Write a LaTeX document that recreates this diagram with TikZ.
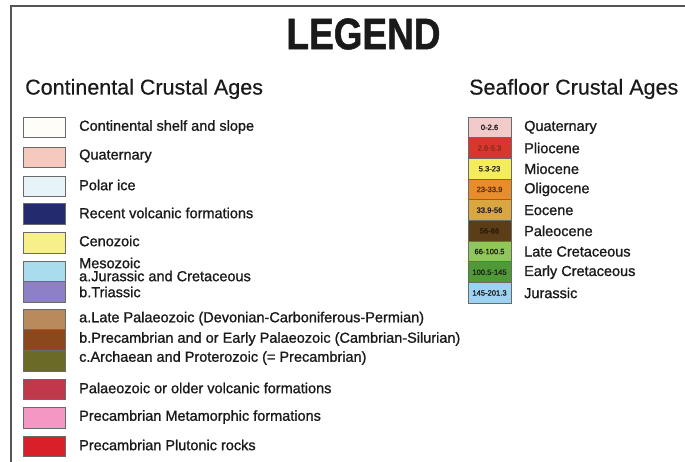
\documentclass[tikz,border=0pt]{standalone}
\usepackage{fontspec}
\setmainfont{Liberation Sans}
\newfontfamily\lblfont[FakeBold=1.1]{Liberation Sans}
\newfontfamily\hdrfont[FakeBold=0.4]{Liberation Sans}
\newfontfamily\ttlfont[FakeBold=1.2]{Liberation Sans Bold}
\definecolor{frame}{HTML}{555555}
\definecolor{edge}{HTML}{6A6A6A}
\definecolor{ink}{HTML}{1A1A1A}
\definecolor{cShelf}{HTML}{FFFDF8}
\definecolor{cQuat}{HTML}{F5C9BE}
\definecolor{cIce}{HTML}{E6F4F7}
\definecolor{cVolc}{HTML}{232B6E}
\definecolor{cCeno}{HTML}{F7F08A}
\definecolor{cJur}{HTML}{A9DDEE}
\definecolor{cTri}{HTML}{8E80C6}
\definecolor{cLPal}{HTML}{B98A5B}
\definecolor{cEPal}{HTML}{8A481C}
\definecolor{cArch}{HTML}{6B6A26}
\definecolor{cPVolc}{HTML}{C0384A}
\definecolor{cMeta}{HTML}{F597C4}
\definecolor{cPlut}{HTML}{D81F2A}
\definecolor{sQuat}{HTML}{F2CACA}
\definecolor{sPlio}{HTML}{D9362C}
\definecolor{sMio}{HTML}{F4EC5C}
\definecolor{sOli}{HTML}{E98D2B}
\definecolor{sEoc}{HTML}{D9A642}
\definecolor{sPal}{HTML}{5B3D18}
\definecolor{sLCr}{HTML}{8FC75C}
\definecolor{sECr}{HTML}{4F9A36}
\definecolor{sJur}{HTML}{9DD3F0}
\definecolor{tPlio}{HTML}{8A2A20}
\definecolor{tOli}{HTML}{5A2A0A}
\definecolor{tPal}{HTML}{2A1A08}
\tikzset{
  swatch/.style={draw=edge, line width=0.8pt, minimum width=42pt, minimum height=#1, inner sep=0pt, outer sep=0pt},
  swatch/.default=20.5pt,
  seabox/.style={draw=edge, line width=0.8pt, minimum width=43pt, minimum height=20.7pt, inner sep=0pt, outer sep=0pt, font=\lblfont\fontsize{7.6}{8}\selectfont, text=ink},
  lbl/.style={anchor=west, inner sep=0pt, font=\lblfont\fontsize{14.5}{15}\selectfont, text=ink},
  hdr/.style={anchor=west, inner sep=0pt, font=\hdrfont\fontsize{21.5}{22}\selectfont, text=ink},
}
\begin{document}
\begin{tikzpicture}[x=1pt,y=-1pt]
\useasboundingbox (0,0) rectangle (685,462);
\fill[white] (0,0) rectangle (685,462);
% frame
\draw[frame, line width=1.6pt] (11,462) -- (11,6) -- (685,6);
% title
\node[inner sep=0pt, text=ink] (title) at (363.5,34) {\scalebox{0.84}[1]{\ttlfont\fontsize{44}{44}\selectfont LEGEND}};
\node[hdr] (hcont) at (25,89) {Continental Crustal Ages};
\node[hdr] (hsea) at (469,89) {Seafloor Crustal Ages};
% continental swatches
\node[swatch, fill=cShelf] (s1) at (44,127.5) {};
\node[lbl] (l1) at (79,127) {Continental shelf and slope};
\node[swatch, fill=cQuat] (s2) at (44,157.5) {};
\node[lbl] (l2) at (79,156) {Quaternary};
\node[swatch, fill=cIce] (s3) at (44,186.5) {};
\node[lbl] (l3) at (79,185) {Polar ice};
\node[swatch, fill=cVolc] (s4) at (44,214) {};
\node[lbl] (l4) at (79,213) {Recent volcanic formations};
\node[swatch, fill=cCeno] (s5) at (44,243) {};
\node[lbl] (l5) at (79,241) {Cenozoic};
\node[swatch, fill=cJur] (s6a) at (44,272) {};
\node[swatch, fill=cTri] (s6b) at (44,292) {};
\node[lbl] (l6) at (79,263) {Mesozoic};
\node[lbl] (l6a) at (79,276) {a.Jurassic and Cretaceous};
\node[lbl] (l6b) at (79,292) {b.Triassic};
\node[swatch, fill=cLPal] (s7a) at (44,319.5) {};
\node[swatch, fill=cEPal] (s7b) at (44,340) {};
\node[swatch, fill=cArch] (s7c) at (44,361) {};
\node[lbl] (l7a) at (79,318.5) {a.Late Palaeozoic (Devonian-Carboniferous-Permian)};
\node[lbl] (l7b) at (79,339) {b.Precambrian and or Early Palaeozoic (Cambrian-Silurian)};
\node[lbl] (l7c) at (79,358) {c.Archaean and Proterozoic (= Precambrian)};
\node[swatch, fill=cPVolc] (s8) at (44,389.5) {};
\node[lbl] (l8) at (79,388) {Palaeozoic or older volcanic formations};
\node[swatch, fill=cMeta] (s9) at (44,418) {};
\node[lbl] (l9) at (79,417) {Precambrian Metamorphic formations};
\node[swatch, fill=cPlut] (s10) at (44,446.5) {};
\node[lbl] (l10) at (79,445) {Precambrian Plutonic rocks};
% seafloor
\node[seabox, fill=sQuat] (b1) at (489.5,127.35) {0-2.6};
\node[lbl] (t1) at (524,127.35) {Quaternary};
\node[seabox, fill=sPlio, text=tPlio] (b2) at (489.5,148.05) {2.6-5.3};
\node[lbl] (t2) at (524,148.05) {Pliocene};
\node[seabox, fill=sMio] (b3) at (489.5,168.75) {5.3-23};
\node[lbl] (t3) at (524,168.75) {Miocene};
\node[seabox, fill=sOli, text=tOli] (b4) at (489.5,189.45) {23-33.9};
\node[lbl] (t4) at (524,189.45) {Oligocene};
\node[seabox, fill=sEoc] (b5) at (489.5,210.15) {33.9-56};
\node[lbl] (t5) at (524,210.15) {Eocene};
\node[seabox, fill=sPal, text=tPal] (b6) at (489.5,230.85) {56-66};
\node[lbl] (t6) at (524,230.85) {Paleocene};
\node[seabox, fill=sLCr] (b7) at (489.5,251.55) {66-100.5};
\node[lbl] (t7) at (524,251.55) {Late Cretaceous};
\node[seabox, fill=sECr] (b8) at (489.5,272.25) {100.5-145};
\node[lbl] (t8) at (524,272.25) {Early Cretaceous};
\node[seabox, fill=sJur] (b9) at (489.5,292.95) {145-201.3};
\node[lbl] (t9) at (524,292.95) {Jurassic};
\end{tikzpicture}
\end{document}
